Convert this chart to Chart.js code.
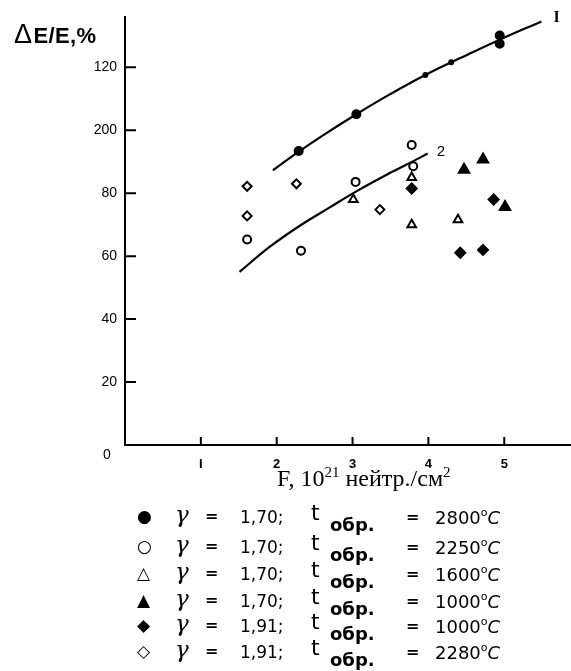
<!DOCTYPE html>
<html>
<head>
<meta charset="utf-8">
<script src="https://cdn.jsdelivr.net/npm/chart.js@4.4.0/dist/chart.umd.min.js"></script>
<style>
  html, body { margin: 0; padding: 0; background: #fff; }
  #wrap { position: relative; width: 571px; height: 671px; overflow: hidden; }
  #chart { position: absolute; left: 0; top: 0; }
  .ytitle { position: absolute; left: 14px; top: 19px; font: bold 22px 'Liberation Sans', sans-serif; letter-spacing: 0.4px; color: #000; }
  .ytitle .d { font-weight: normal; font-size: 27px; margin-right: 1px; }
  .xtitle { position: absolute; left: 277px; top: 464px; font: 24px 'Liberation Serif', serif; color: #000; white-space: nowrap; }
  .xtitle sup { font-size: 15px; }
  .row { position: absolute; left: 0; width: 571px; height: 24px; color: #000; }
  .row span { position: absolute; white-space: nowrap; }
  .sym { font: 17px 'DejaVu Sans', sans-serif; }
  .gam { font: italic 23px 'DejaVu Serif', serif; }
  .eq  { font: bold 16px 'DejaVu Sans', sans-serif; }
  .num { font: 17px 'DejaVu Sans', sans-serif; }
  .t   { font: 22px 'DejaVu Sans', sans-serif; }
  .sub { font: bold 18px 'DejaVu Sans', sans-serif; }
  .tmp { font: 18px 'DejaVu Sans', sans-serif; }
  .tmp sup { font-size: 11px; vertical-align: 8px; }
</style>
</head>
<body>
<div id="wrap">
  <canvas id="chart" width="571" height="500"></canvas>
  <div class="ytitle"><span class="d">Δ</span>E/E,%</div>
  <div class="xtitle">F, 10<sup>21</sup> нейтр./см<sup>2</sup></div>
  <div id="legend"></div>
</div>
<script>
  // axis ticks
  const xTicks = [1, 2, 3, 4, 5];
  const xTickLabels = ['I', '2', '3', '4', '5'];
  const yTicks = [0, 20, 40, 60, 80, 100, 120];
  const yTickLabels = ['0', '20', '40', '60', '80', '200', '120'];

  // fitted curves I and 2
  const curve1X = [1.95, 2.29, 2.61, 3.05, 3.49, 3.96, 4.59, 4.94, 5.49];
  const curve1Y = [87.3, 93.2, 98.4, 105.1, 111.4, 117.6, 124.9, 128.8, 134.6];
  const curve2X = [1.51, 1.91, 2.30, 2.70, 3.05, 3.49, 3.80, 3.99];
  const curve2Y = [55.0, 63.0, 69.6, 75.5, 80.6, 86.4, 90.2, 92.6];

  // measured points, by sample
  const s1X = [2.29, 3.05, 4.94, 4.94, 3.96, 4.30];    // γ=1,70 t=2800
  const s1Y = [93.4, 105.1, 130.1, 127.5, 117.6, 121.6];
  const s2X = [1.61, 2.32, 3.04, 3.78, 3.80];          // γ=1,70 t=2250
  const s2Y = [65.3, 61.7, 83.6, 95.3, 88.6];
  const s3X = [3.01, 3.78, 4.39, 3.78];                // γ=1,70 t=1600
  const s3Y = [78.0, 70.0, 71.6, 85.0];
  const s4X = [4.47, 4.72, 5.01];                      // γ=1,70 t=1000
  const s4Y = [87.5, 90.7, 75.6];
  const s5X = [3.78, 4.86, 4.42, 4.72];                // γ=1,91 t=1000
  const s5Y = [81.5, 78.0, 61.1, 62.0];
  const s6X = [1.61, 1.61, 2.26, 3.36];                // γ=1,91 t=2280
  const s6Y = [82.2, 72.8, 83.0, 74.8];

  // legend
  const legendSymbols = ['●', '○', '△', '▲', '◆', '◇'];
  const legendGamma = ['1,70;', '1,70;', '1,70;', '1,70;', '1,91;', '1,91;'];
  const legendTemp = ['2800', '2250', '1600', '1000', '1000', '2280'];

  function pts(xs, ys) {
    return xs.map(function (x, i) { return { x: x, y: ys[i] }; });
  }

  function curve(xs, ys, label) {
    return {
      label: label,
      data: pts(xs, ys),
      showLine: true,
      borderColor: '#000',
      borderWidth: 2.2,
      tension: 0.4,
      pointRadius: 0,
      fill: false,
      order: 2
    };
  }

  function marks(xs, ys, style, filled, r, label) {
    return {
      label: label,
      data: pts(xs, ys),
      showLine: false,
      pointStyle: style,
      pointRadius: r,
      pointBackgroundColor: filled ? '#000' : '#fff',
      pointBorderColor: '#000',
      pointBorderWidth: 2,
      order: 1
    };
  }

  // inward tick marks, the lone "0" and the curve labels
  const inwardTicks = {
    id: 'inwardTicks',
    afterDraw: function (chart) {
      const ctx = chart.ctx;
      const a = chart.chartArea;
      const xs = chart.scales.x, ys = chart.scales.y;
      ctx.save();
      ctx.strokeStyle = '#000';
      ctx.lineWidth = 2;
      ctx.beginPath();
      yTicks.forEach(function (v) {
        if (v === 0) return;
        const p = ys.getPixelForValue(v);
        ctx.moveTo(a.left, p);
        ctx.lineTo(a.left + 11, p);
      });
      xTicks.forEach(function (v) {
        const p = xs.getPixelForValue(v);
        ctx.moveTo(p, a.bottom);
        ctx.lineTo(p, a.bottom - 8);
      });
      ctx.stroke();

      ctx.fillStyle = '#000';
      ctx.textBaseline = 'middle';
      ctx.textAlign = 'center';
      ctx.font = '14px "Liberation Sans", sans-serif';
      ctx.fillText(yTickLabels[0], a.left - 18, ys.getPixelForValue(0) + 10);

      ctx.textAlign = 'left';
      ctx.font = 'bold 16px "Liberation Serif", serif';
      const e1 = curve1X.length - 1, e2 = curve2X.length - 1;
      ctx.fillText('I', xs.getPixelForValue(curve1X[e1]) + 12, ys.getPixelForValue(curve1Y[e1]) - 4);
      ctx.font = '15px "Liberation Sans", sans-serif';
      ctx.fillText('2', xs.getPixelForValue(curve2X[e2]) + 9, ys.getPixelForValue(curve2Y[e2]) - 2);
      ctx.restore();
    }
  };

  const s1 = marks(s1X, s1Y, 'circle', true, 4, '1,70 / 2800');
  s1.pointRadius = [4, 4, 4, 4, 2, 2];

  new Chart(document.getElementById('chart'), {
    type: 'scatter',
    data: {
      datasets: [
        curve(curve1X, curve1Y, 'I'),
        curve(curve2X, curve2Y, '2'),
        s1,
        marks(s2X, s2Y, 'circle', false, 4, '1,70 / 2250'),
        marks(s3X, s3Y, 'triangle', false, 5, '1,70 / 1600'),
        marks(s4X, s4Y, 'triangle', true, 6, '1,70 / 1000'),
        marks(s5X, s5Y, 'rectRot', true, 5, '1,91 / 1000'),
        marks(s6X, s6Y, 'rectRot', false, 4.5, '1,91 / 2280')
      ]
    },
    options: {
      responsive: false,
      animation: false,
      layout: { autoPadding: false, padding: { top: 17, right: 0, left: 0, bottom: 0 } },
      plugins: { legend: { display: false }, tooltip: { enabled: false } },
      scales: {
        x: {
          type: 'linear',
          min: 0,
          max: 5.88,
          afterBuildTicks: function (s) { s.ticks = xTicks.map(function (v) { return { value: v }; }); },
          afterFit: function (s) { s.height = 55; },
          grid: { display: false, drawTicks: false },
          border: { display: true, color: '#000', width: 2 },
          ticks: {
            padding: 12,
            color: '#000',
            font: { family: 'Liberation Sans', size: 13, weight: 'bold' },
            callback: function (v) { return xTickLabels[xTicks.indexOf(v)]; }
          }
        },
        y: {
          type: 'linear',
          min: 0,
          max: 136,
          afterBuildTicks: function (s) { s.ticks = yTicks.map(function (v) { return { value: v }; }); },
          afterFit: function (s) { s.width = 125; },
          grid: { display: false, drawTicks: false },
          border: { display: true, color: '#000', width: 2 },
          ticks: {
            padding: 8,
            color: '#000',
            font: { family: 'Liberation Sans', size: 14 },
            callback: function (v) { return v === 0 ? '' : yTickLabels[yTicks.indexOf(v)]; }
          }
        }
      }
    },
    plugins: [inwardTicks]
  });

  // legend rows
  const rowCenters = [518, 548, 575, 602, 627, 653];
  const legend = document.getElementById('legend');
  legendSymbols.forEach(function (sym, i) {
    const row = document.createElement('div');
    row.className = 'row';
    row.style.top = (rowCenters[i] - 12) + 'px';
    row.innerHTML =
      '<span class="sym" style="left:137px;top:0px">' + sym + '</span>' +
      '<span class="gam" style="left:175px;top:-5px">γ</span>' +
      '<span class="eq" style="left:205px;top:0px">=</span>' +
      '<span class="num" style="left:240px;top:1px">' + legendGamma[i] + '</span>' +
      '<span class="t" style="left:311px;top:-6px">t</span>' +
      '<span class="sub" style="left:330px;top:8px">обр.</span>' +
      '<span class="eq" style="left:406px;top:1px">=</span>' +
      '<span class="tmp" style="left:435px;top:0px">' + legendTemp[i] + '<sup>o</sup><i>C</i></span>';
    legend.appendChild(row);
  });
</script>
</body>
</html>
